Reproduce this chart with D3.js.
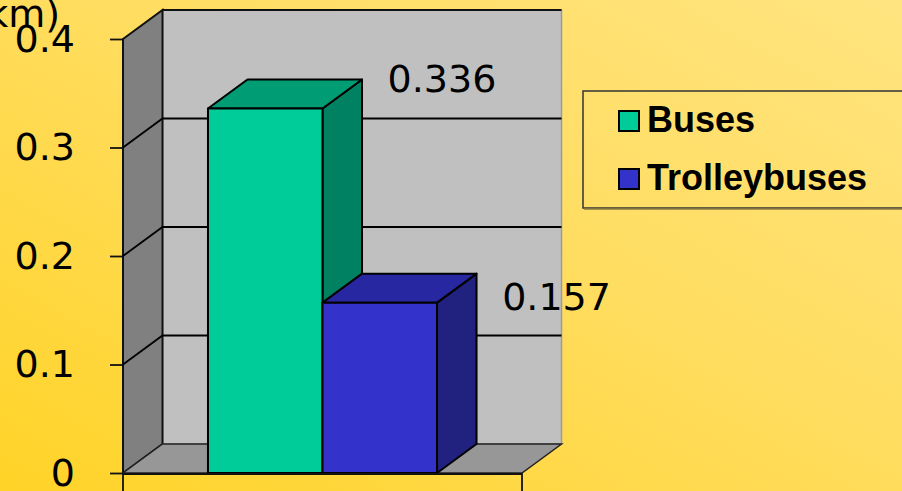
<!DOCTYPE html>
<html>
<head>
<meta charset="utf-8">
<script src="https://cdn.jsdelivr.net/npm/d3@7"></script>
<style>
  html, body { margin: 0; padding: 0; overflow: hidden; }
  svg { display: block; }
  .tick-label, .value-label, .unit-label { font-family: "DejaVu Sans", Verdana, sans-serif; font-size: 38px; fill: #000; }
  .legend-text { font-family: "Liberation Sans", Arial, sans-serif; font-weight: bold; font-size: 36px; fill: #000; }
</style>
</head>
<body>
<svg id="chart"></svg>
<script>
const categories = [""];
const seriesNames = ["Buses", "Trolleybuses"];
const seriesValues = [0.336, 0.157];
const yTicks = [0, 0.1, 0.2, 0.3, 0.4];
const yTickLabels = ["0", "0.1", "0.2", "0.3", "0.4"];
const valueLabels = ["0.336", "0.157"];
const unitLabel = "(km)";

const width = 902;
const height = 491;
const depth = { dx: 39.5, dy: -29 };
// label placement relative to the bar's back-top corner (as Excel laid them out)
const labelShift = { Buses: 13, Trolleybuses: 36 };

const colors = {
	Buses: { front: "#00cc99", top: "#009c74", side: "#008262" },
	Trolleybuses: { front: "#3333cc", top: "#2727a2", side: "#21217f" },
};

const svg = d3.select("#chart").attr("width", width).attr("height", height);

const defs = svg.append("defs");
const bg = defs.append("linearGradient").attr("id", "bg").attr("x1", "0%").attr("y1", "100%").attr("x2", "100%").attr("y2", "0%");
bg.append("stop").attr("offset", "0%").attr("stop-color", "#ffd327");
bg.append("stop").attr("offset", "55%").attr("stop-color", "#ffdd60");
bg.append("stop").attr("offset", "100%").attr("stop-color", "#ffe480");
svg.append("rect").attr("width", width).attr("height", height).attr("fill", "url(#bg)");

const y = d3.scaleLinear().domain([0, 0.4]).range([473, 39]);
const x0 = d3.scaleBand().domain(categories).range([123, 522]).paddingInner(0).paddingOuter(0.371);
const x1 = d3.scaleBand().domain(seriesNames).range([0, x0.bandwidth()]);

const [xl, xr] = x0.range();
const back = ([px, py]) => [px + depth.dx, py + depth.dy];
const poly = (pts) => "M" + pts.map((p) => p.join(",")).join("L") + "Z";

// walls
const y0 = y(0);
const yTop = y(0.4);
svg.append("path").attr("d", poly([back([xl, yTop]), back([xr, yTop]), back([xr, y0]), back([xl, y0])])).attr("fill", "#c0c0c0").attr("stroke", "#9a9a9a").attr("stroke-width", 1.5);
svg.append("line").attr("x1", xl + depth.dx).attr("x2", xr + depth.dx).attr("y1", yTop + depth.dy).attr("y2", yTop + depth.dy).attr("stroke", "#111").attr("stroke-width", 2);
svg.append("path").attr("d", poly([[xl, yTop], back([xl, yTop]), back([xl, y0]), [xl, y0]])).attr("fill", "#808080").attr("stroke", "#111").attr("stroke-width", 2);
svg.append("path").attr("d", poly([[xl, y0], back([xl, y0]), back([xr, y0]), [xr, y0]])).attr("fill", "#979797").attr("stroke", "#222").attr("stroke-width", 1.5);

// gridlines
const grid = svg.append("g").attr("stroke", "#000").attr("stroke-width", 1.8).attr("fill", "none");
yTicks.filter((t) => t > 0 && t < 0.4).forEach((t) => {
	const yy = y(t);
	grid.append("path").attr("d", `M${xl},${yy}L${xl + depth.dx},${yy + depth.dy}L${xr + depth.dx},${yy + depth.dy}`);
});

// bars
const bars = seriesNames.map((name, i) => ({ name, value: seriesValues[i], label: valueLabels[i] }));
const barG = svg.append("g").attr("stroke", "#000").attr("stroke-width", 2).attr("stroke-linejoin", "round");
bars.forEach((d) => {
	const bx0 = x0(categories[0]) + x1(d.name);
	const bx1 = bx0 + x1.bandwidth();
	const by = y(d.value);
	const c = colors[d.name];
	barG.append("path").attr("d", poly([[bx1, by], back([bx1, by]), back([bx1, y0]), [bx1, y0]])).attr("fill", c.side);
	barG.append("path").attr("d", poly([[bx0, by], back([bx0, by]), back([bx1, by]), [bx1, by]])).attr("fill", c.top);
	barG.append("path").attr("d", poly([[bx0, by], [bx1, by], [bx1, y0], [bx0, y0]])).attr("fill", c.front);
});

// value labels
bars.forEach((d) => {
	const bx1 = x0(categories[0]) + x1(d.name) + x1.bandwidth();
	svg.append("text").attr("class", "value-label")
		.attr("x", bx1 + depth.dx + 80).attr("y", y(d.value) + depth.dy + labelShift[d.name])
		.attr("text-anchor", "middle").text(d.label);
});

// y axis
const yAxis = d3.axisLeft(y).tickValues(yTicks).tickFormat((d, i) => yTickLabels[i]).tickSize(13).tickPadding(35);
const ag = svg.append("g").attr("transform", `translate(${xl},0)`).call(yAxis);
ag.select(".domain").remove();
ag.selectAll(".tick line").attr("stroke", "#111").attr("stroke-width", 1.8);
ag.selectAll(".tick text").attr("class", "tick-label").attr("font-family", null).attr("font-size", null).attr("fill", "#000");

// category axis
svg.append("line").attr("x1", xl).attr("x2", xr).attr("y1", y0 + 1).attr("y2", y0 + 1).attr("stroke", "#111").attr("stroke-width", 2);
x0.range().forEach((xx) => {
	svg.append("line").attr("x1", xx).attr("x2", xx).attr("y1", y0).attr("y2", height).attr("stroke", "#111").attr("stroke-width", 1.8);
});

svg.append("text").attr("class", "unit-label").attr("x", 60).attr("y", 27).attr("text-anchor", "end").text(unitLabel);

// legend
const legend = svg.append("g");
legend.append("rect").attr("x", 583).attr("y", 91).attr("width", 330).attr("height", 117).attr("fill", "none").attr("stroke", "#333").attr("stroke-width", 1.5);
legend.append("line").attr("x1", 584).attr("x2", 902).attr("y1", 209).attr("y2", 209).attr("stroke", "#8a7a40").attr("stroke-width", 1.5);
seriesNames.forEach((name, i) => {
	const ly = 111 + i * 58;
	legend.append("rect").attr("x", 619).attr("y", ly).attr("width", 20).attr("height", 20).attr("fill", colors[name].front).attr("stroke", "#000").attr("stroke-width", 2);
	legend.append("text").attr("class", "legend-text").attr("x", 647).attr("y", ly + 21).text(name);
});
</script>
</body>
</html>
